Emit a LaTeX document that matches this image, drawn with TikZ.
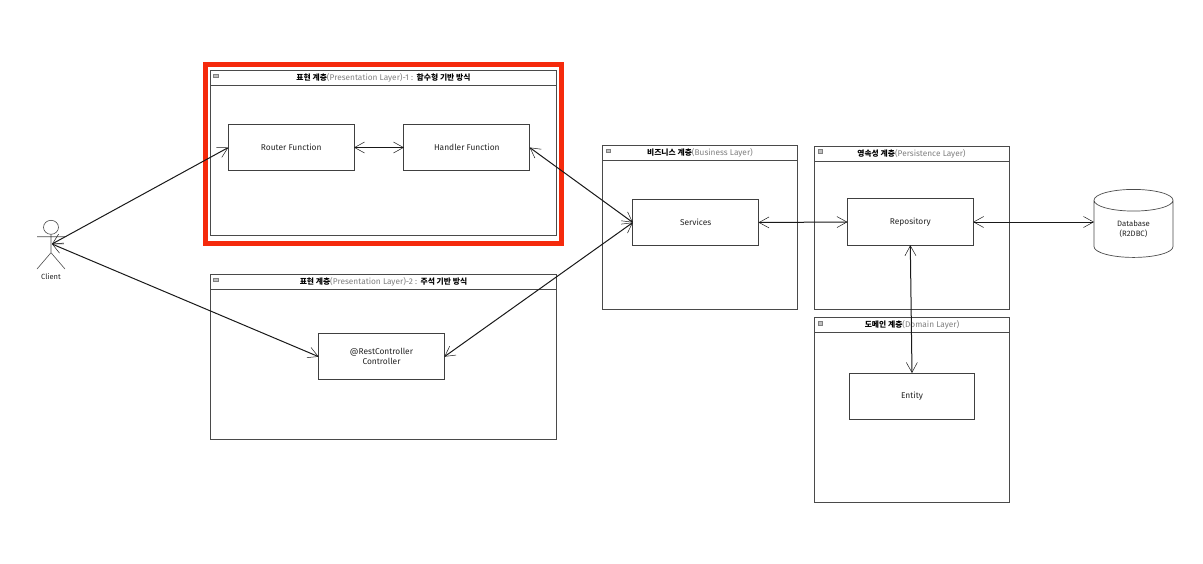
\documentclass[tikz,border=0pt]{standalone}
\usepackage{fontspec}
\usetikzlibrary{arrows.meta,shapes.geometric}
\setmainfont{Fira Sans}
\newfontfamily\kr{Noto Sans CJK KR}
\definecolor{linegray}{HTML}{4A4A4A}
\definecolor{latingray}{HTML}{808080}
\definecolor{redframe}{HTML}{F52A0C}
\newcommand{\ko}[1]{{\kr\bfseries\fontsize{7.8}{9}\selectfont #1}}
\newcommand{\la}[1]{{\color{latingray}\fontsize{8.3}{9}\selectfont #1}}
\tikzset{
  x=1pt,y=-1pt,
  every node/.style={inner sep=0pt,outer sep=0pt},
  layerb/.style={draw=linegray,line width=.9pt,fill=white,anchor=north west},
  titleb/.style={anchor=center,text=black},
  iconb/.style={draw=gray,line width=.5pt,fill=black!25,minimum width=4.5,minimum height=3.5},
  box/.style={draw=black!75,line width=1pt,fill=white,minimum width=125.7,minimum height=46.4,align=center,font=\fontsize{8.4}{10}\selectfont,text=black!85},
  link/.style={line width=1pt,draw=black!90,{Straight Barb[length=10pt,width=11pt,line width=.5pt]}-{Straight Barb[length=10pt,width=11pt,line width=.5pt]}},
  actorl/.style={draw=black!70,line width=.6pt}
}
\begin{document}
\begin{tikzpicture}
\useasboundingbox[fill=white] (0,0) rectangle (1203,563);
% red highlight
\node[draw=redframe,line width=5.2pt,minimum width=356,minimum height=178.5,anchor=north west] (hl) at (205.6,64.6) {};
% layer frames
\node[layerb,minimum width=346,minimum height=165.7] (f1) at (210.7,70) {};
\node[layerb,minimum width=346,minimum height=15.5] (t1) at (210.7,70) {};
\node[layerb,minimum width=346,minimum height=165] (f2) at (210.7,274) {};
\node[layerb,minimum width=346,minimum height=15.3] (t2) at (210.7,274) {};
\node[layerb,minimum width=195,minimum height=163.6] (f3) at (602.3,145.7) {};
\node[layerb,minimum width=195,minimum height=15] (t3) at (602.3,145.7) {};
\node[layerb,minimum width=195,minimum height=163.6] (f4) at (814.3,146) {};
\node[layerb,minimum width=195,minimum height=15] (t4) at (814.3,146) {};
\node[layerb,minimum width=195,minimum height=184.7] (f5) at (814.3,317.3) {};
\node[layerb,minimum width=195,minimum height=15] (t5) at (814.3,317.3) {};
% icons
\node[iconb] (i1) at (215.5,75.5) {};
\node[iconb] (i2) at (215.5,279.5) {};
\node[iconb] (i3) at (608,150.5) {};
\node[iconb] (i4) at (820,151) {};
\node[iconb] (i5) at (820,323) {};
% titles
\node[titleb] (l1) at (383.5,77.5) {\ko{표현 계층}\la{(Presentation Layer)-1 :} \ko{함수형 기반 방식}};
\node[titleb] (l2) at (383.5,281.5) {\ko{표현 계층}\la{(Presentation Layer)-2 :} \ko{주석 기반 방식}};
\node[titleb] (l3) at (700,152.5) {\ko{비즈니스 계층}\la{(Business Layer)}};
\node[titleb] (l4) at (911.5,153.5) {\ko{영속성 계층}\la{(Persistence Layer)}};
\node[titleb] (l5) at (912,324.5) {\ko{도메인 계층}\la{(Domain Layer)}};
% boxes
\node[box] (router) at (291.2,147.5) {Router Function};
\node[box] (handler) at (466.8,147.5) {Handler Function};
\node[box] (controller) at (381.5,356.7) {@RestController\\Controller};
\node[box] (services) at (695.7,222.5) {Services};
\node[box] (repository) at (910.3,222) {Repository};
\node[box] (entity) at (912,396.2) {Entity};
% actor
\node[draw=black!70,line width=.6pt,ellipse,minimum width=15,minimum height=14] (head) at (51,227.3) {};
\coordinate (hip) at (51,252.7);
\coordinate (arml) at (37,236.7);
\coordinate (armr) at (65,236.7);
\coordinate (legl) at (37,269);
\coordinate (legr) at (65,269);
\coordinate (client) at (52,244);
\draw[actorl] (head.south) -- (hip) (arml) -- (armr) (legl) -- (hip) -- (legr);
\node[font=\fontsize{7.5}{9}\selectfont,text=black!85] (clientlabel) at (51,277) {Client};
% database
\node[draw=black!70,line width=.7pt,fill=white,cylinder,shape border rotate=90,aspect=.66,minimum width=79,minimum height=68,align=center,font=\fontsize{7.8}{10}\selectfont,text=black!85] (db) at (1133.5,229) {Database\\(R2DBC)};
% connectors
\draw[link] (client) -- (router.west);
\draw[link] (client) -- (controller.west);
\draw[link] (router.east) -- (handler.west);
\draw[link] (handler.east) -- (services.west);
\draw[link] (controller.east) -- (services.west);
\draw[link] (services.east) -- (repository.west);
\draw[link] (repository.east) -- (repository.east -| db.west);
\draw[link] (repository.south) -- (entity.north);
\end{tikzpicture}
\end{document}
